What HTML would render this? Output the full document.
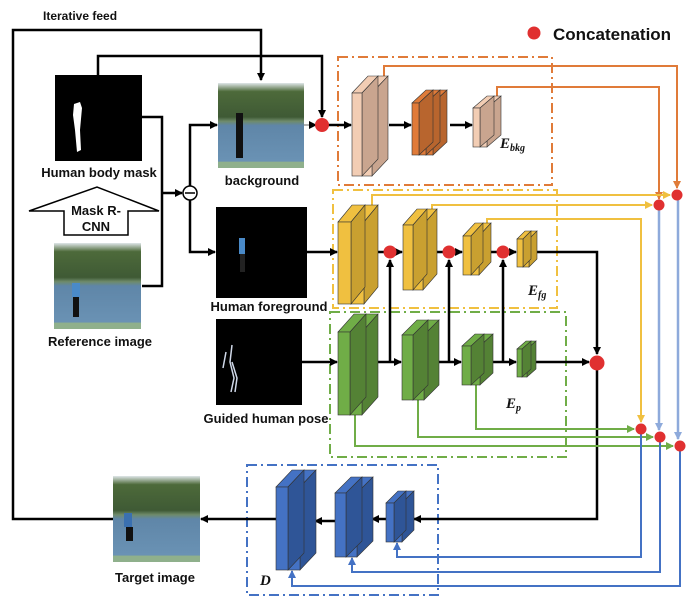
<!DOCTYPE html>
<html><head><meta charset="utf-8"><style>
body{margin:0;background:#fff}
svg{display:block}
text{font-family:"Liberation Sans",sans-serif;font-weight:bold;fill:#111}
.lbl{font-size:13px;text-anchor:middle}
.e{font-family:"Liberation Serif",serif;font-style:italic;font-weight:bold;font-size:15px}
</style></head><body>
<svg id="s" width="700" height="604" viewBox="0 0 700 604" xmlns="http://www.w3.org/2000/svg">
<defs>
<marker id="ak" markerWidth="8" markerHeight="8" refX="7" refY="4" orient="auto" markerUnits="userSpaceOnUse"><path d="M0,0L8,4L0,8z" fill="#000"/></marker>
<marker id="ao" markerWidth="8" markerHeight="8" refX="7" refY="4" orient="auto" markerUnits="userSpaceOnUse"><path d="M0,0L8,4L0,8z" fill="#e07b39"/></marker>
<marker id="ay" markerWidth="8" markerHeight="8" refX="7" refY="4" orient="auto" markerUnits="userSpaceOnUse"><path d="M0,0L8,4L0,8z" fill="#f0c040"/></marker>
<marker id="ag" markerWidth="8" markerHeight="8" refX="7" refY="4" orient="auto" markerUnits="userSpaceOnUse"><path d="M0,0L8,4L0,8z" fill="#70ad47"/></marker>
<marker id="ab" markerWidth="8" markerHeight="8" refX="7" refY="4" orient="auto" markerUnits="userSpaceOnUse"><path d="M0,0L8,4L0,8z" fill="#4472c4"/></marker>
<marker id="al" markerWidth="8" markerHeight="8" refX="7" refY="4" orient="auto" markerUnits="userSpaceOnUse"><path d="M0,0L8,4L0,8z" fill="#8eaadb"/></marker>
<linearGradient id="ph" x1="0" y1="0" x2="0" y2="1">
<stop offset="0" stop-color="#dfe6e8"/><stop offset="0.1" stop-color="#4d6a3a"/><stop offset="0.4" stop-color="#3f5a35"/><stop offset="0.45" stop-color="#6f8b6a"/><stop offset="0.5" stop-color="#5f86a8"/><stop offset="0.92" stop-color="#6a92b4"/><stop offset="0.93" stop-color="#8fb08c"/><stop offset="1" stop-color="#8fb08c"/></linearGradient>
</defs>
<g id="g"></g>
<text x="43" y="20" style="font-size:12px">Iterative feed</text>
<circle cx="534" cy="33" r="6.5" fill="#e03030"/>
<text x="553" y="40" style="font-size:17px">Concatenation</text>
<text class="lbl" x="99" y="177">Human body mask</text>
<text class="lbl" x="262" y="185">background</text>
<text class="lbl" x="269" y="311">Human foreground</text>
<text class="lbl" x="100" y="346">Reference image</text>
<text class="lbl" x="266" y="423">Guided human pose</text>
<text class="lbl" x="155" y="582">Target image</text>
<text class="lbl" x="96" y="215">Mask R-</text>
<text class="lbl" x="96" y="231">CNN</text>
<text class="e" x="500" y="148">E<tspan font-size="10" dy="3">bkg</tspan></text>
<text class="e" x="528" y="295">E<tspan font-size="10" dy="3">fg</tspan></text>
<text class="e" x="506" y="408">E<tspan font-size="10" dy="3">p</tspan></text>
<text class="e" x="260" y="585">D</text>
</svg>
<script>
var g=document.getElementById('g'),h='';
function P(d,c,w,m,extra){h+='<path d="'+d+'" fill="none" stroke="'+c+'" stroke-width="'+w+'"'+(m?' marker-end="url(#'+m+')"':'')+(extra||'')+'/>';}
function R(x,y,w,hh,f,s){h+='<rect x="'+x+'" y="'+y+'" width="'+w+'" height="'+hh+'" fill="'+f+'"'+(s?' stroke="'+s+'"':'')+'/>';}
function C(x,y,r){h+='<circle cx="'+x+'" cy="'+y+'" r="'+r+'" fill="#e03030"/>';}
function slab(x,y,w,hh,dx,dy,f,sd){
 h+='<polygon points="'+x+','+y+' '+(x+dx)+','+(y-dy)+' '+(x+w+dx)+','+(y-dy)+' '+(x+w)+','+y+'" fill="'+f+'" stroke="#333" stroke-width="0.6"/>';
 h+='<polygon points="'+(x+w)+','+y+' '+(x+w+dx)+','+(y-dy)+' '+(x+w+dx)+','+(y+hh-dy)+' '+(x+w)+','+(y+hh)+'" fill="'+sd+'" stroke="#333" stroke-width="0.6"/>';
 h+='<rect x="'+x+'" y="'+y+'" width="'+w+'" height="'+hh+'" fill="'+f+'" stroke="#333" stroke-width="0.6"/>';}
function layer(x,y,w,hh,dx,dy,n,f,sd){for(var i=n-1;i>=0;i--)slab(x+i*w,y,w,hh,dx,dy,f,sd);}
var dash=' stroke-dasharray="10,4,2,4"';
P('M338,57H552V185H338Z','#e07b39',2,null,dash);
P('M333,190H557V308H333Z','#f0c040',2,null,dash);
P('M330,312H566V457H330Z','#70ad47',2,null,dash);
P('M247,465H438V595H247Z','#4472c4',2,null,dash);
R(55,75,87,86,'#000');h+='<path d="M74,104 L80,102 L82,108 L80,130 L81,150 L77,152 L75,130 L73,115Z" fill="#fff"/>';
R(218,83,86,85,'url(#ph)');R(236,113,7,45,'#111');
R(216,207,91,91,'#000');R(239,238,6,16,'#4a8ac8');R(240,254,5,18,'#222');
R(54,243,87,86,'url(#ph)');R(72,283,8,14,'#4a8ac8');R(73,297,6,20,'#111');
R(216,319,86,86,'#000');P('M232,345 L230,362 L234,378 L231,392 M232,362 L237,378 L235,392 M226,352 L223,368','#cfd8e8',1.5);
R(113,476,87,86,'url(#ph)');R(124,513,8,14,'#3a70b0');R(126,527,7,14,'#111');
h+='<polygon points="29,211 97,187 159,211 128,211 128,235 64,235 64,211" fill="#fff" stroke="#000" stroke-width="1.5"/>';
P('M113,519H13V30H261V80','#000',2.5,'ak');
P('M98,75V56H322V117','#000',2.5,'ak');
P('M142,117H162V286H142','#000',2.5);
P('M162,193H182','#000',2.5,'ak');
h+='<circle cx="190" cy="193" r="7" fill="#fff" stroke="#000" stroke-width="1.5"/><path d="M185,193H195" stroke="#000" stroke-width="1.5"/>';
P('M190,186V125H217','#000',2.5,'ak');
P('M190,200V252H215','#000',2.5,'ak');
P('M304,125H316','#666',1,'ak');
P('M328,125H351','#000',2.5,'ak');
P('M389,125H411','#000',2.5,'ak');
P('M450,125H472','#000',2.5,'ak');
P('M307,252H337','#000',2.5,'ak');
P('M377,252H402','#000',2.5,'ak');
P('M437,252H462','#000',2.5,'ak');
P('M491,252H516','#000',2.5,'ak');
P('M536,252H597V354','#000',2.5,'ak');
P('M302,362H337','#000',2.5,'ak');
P('M377,362H401','#000',2.5,'ak');
P('M437,362H461','#000',2.5,'ak');
P('M491,362H516','#000',2.5,'ak');
P('M536,362H589','#000',2.5,'ak');
P('M390,362V260','#000',2.5,'ak');P('M449,362V260','#000',2.5,'ak');P('M503,362V260','#000',2.5,'ak');
P('M597,370V519H414','#000',2.5,'ak');
P('M386,519H372','#000',2.5,'ak');
P('M335,521H315','#000',2.5,'ak');
P('M276,519H201','#000',2.5,'ak');
P('M384,78V66H677V188','#e07b39',2,'ao');
P('M497,102V87H659V199','#e07b39',2,'ao');
P('M372,205V195H670','#f0c040',2,'ay');
P('M432,214V205H652','#f0c040',2,'ay');
P('M487,226V219H641V422','#f0c040',2,'ay');
P('M659,205V430','#8eaadb',2.5,'al');
P('M678,195V439','#8eaadb',2.5,'al');
P('M476,385V429H634','#70ad47',2,'ag');
P('M418,400V437H653','#70ad47',2,'ag');
P('M355,415V446H673','#70ad47',2,'ag');
P('M641,429V557H397V543','#4472c4',2,'ab');
P('M660,437V572H352V558','#4472c4',2,'ab');
P('M680,446V586H292V571','#4472c4',2,'ab');
layer(352,93,10,83,16,17,2,'#f2cdb4','#c9a58f');
layer(412,103,7,52,14,13,3,'#e07b39','#b8652e');
layer(473,108,7,39,14,12,2,'#f2cdb4','#c9a58f');
layer(338,222,13,82,14,17,2,'#f0c040','#c9a030');
layer(403,225,10,65,14,16,2,'#f0c040','#c9a030');
layer(463,236,8,39,12,13,2,'#f0c040','#c9a030');
layer(517,239,6,28,8,8,2,'#f0c040','#c9a030');
layer(338,332,12,83,16,18,2,'#70ad47','#548235');
layer(402,335,11,65,15,15,2,'#70ad47','#548235');
layer(462,346,9,39,13,12,2,'#70ad47','#548235');
layer(517,349,5,28,9,8,2,'#70ad47','#548235');
layer(276,487,12,83,16,17,2,'#4472c4','#2f5597');
layer(335,493,11,64,16,16,2,'#4472c4','#2f5597');
layer(386,503,8,39,12,12,2,'#4472c4','#2f5597');
C(322,125,7);C(390,252,6.5);C(449,252,6.5);C(503,252,6.5);C(597,363,7.5);
C(677,195,5.5);C(659,205,5.5);C(641,429,5.5);C(660,437,5.5);C(680,446,5.5);
g.innerHTML=h;
</script>
</body></html>
